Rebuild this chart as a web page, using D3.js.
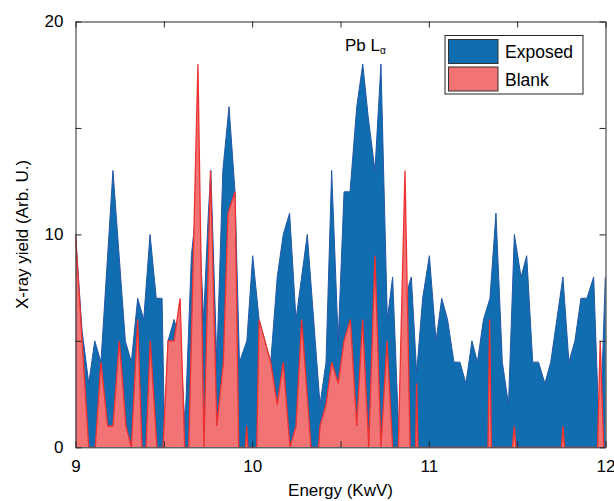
<!DOCTYPE html>
<html>
<head>
<meta charset="utf-8">
<script src="https://cdn.jsdelivr.net/npm/d3@7"></script>
<style>
  body { margin: 0; background: #fff; }
  svg { font-family: "Liberation Sans", Arial, sans-serif; }
</style>
</head>
<body>
<div id="chart"></div>
<script>
// Exposed spectrum (energy in keV, yield)
const exposedE = [9.000, 9.037, 9.075, 9.109, 9.144, 9.212, 9.282, 9.316, 9.352, 9.386,
  9.422, 9.457, 9.490, 9.504, 9.524, 9.558, 9.592, 9.620, 9.656, 9.693,
  9.725, 9.752, 9.766, 9.800, 9.834, 9.869, 9.903, 9.928, 9.970, 10.003,
  10.039, 10.105, 10.142, 10.176, 10.212, 10.248, 10.280, 10.312, 10.384, 10.418,
  10.450, 10.487, 10.520, 10.554, 10.592, 10.626, 10.657, 10.695, 10.729, 10.765,
  10.795, 10.833, 10.865, 10.886, 10.901, 10.931, 10.965, 11.003, 11.041, 11.073,
  11.106, 11.142, 11.176, 11.210, 11.244, 11.275, 11.309, 11.346, 11.380, 11.416,
  11.451, 11.484, 11.522, 11.554, 11.588, 11.621, 11.657, 11.690, 11.759, 11.793,
  11.827, 11.861, 11.895, 11.933, 11.967, 11.999, 12.010];
const exposedY = [10, 5.5, 3, 5, 4, 13, 5, 4, 7, 6,
  10, 7, 7, 0.5, 5, 6, 5, 1, 9, 12,
  6, 11, 13, 4, 13, 16, 12, 4, 5, 9,
  6, 4, 8, 10, 11, 6, 8, 10, 2, 4,
  13, 5, 12, 12, 16, 18, 15.5, 13, 18, 6,
  8, 0, 4, 7.6, 8, 3.5, 7, 9, 5, 7,
  6, 4, 4, 3, 5, 4, 6, 7, 11, 4,
  2, 10, 8, 9, 4, 4, 3, 4, 8, 4,
  5, 7, 7, 8, 0, 8, 8];

// Blank spectrum
const blankE = [9.000, 9.075, 9.112, 9.144, 9.182, 9.212, 9.248, 9.286, 9.316, 9.352,
  9.376, 9.399, 9.423, 9.461, 9.495, 9.524, 9.558, 9.592, 9.618, 9.641,
  9.693, 9.727, 9.764, 9.800, 9.837, 9.863, 9.903, 9.924, 9.962, 9.969,
  9.976, 10.026, 10.039, 10.105, 10.142, 10.176, 10.214, 10.248, 10.280, 10.333,
  10.376, 10.384, 10.418, 10.450, 10.487, 10.520, 10.556, 10.592, 10.625, 10.660,
  10.695, 10.729, 10.763, 10.795, 10.827, 10.865, 10.894, 10.925, 10.931, 10.939,
  11.335, 11.344, 11.354, 11.473, 11.484, 11.493, 11.751, 11.759, 11.768, 11.955,
  11.970, 11.990, 12.010];
const blankY = [10, 0, 0, 4, 1, 1, 5, 1, 0, 6,
  0, 0, 5, 0, 0, 5, 5, 7, 0, 0,
  18, 0, 13, 1, 4, 11, 12, 0, 0, 1,
  0, 0, 6, 4, 2, 4, 0, 1, 6, 0,
  0, 1, 2, 4, 3, 5, 6, 1, 6, 0,
  9, 0, 5, 0, 0, 13, 0, 0, 3, 0,
  0, 6, 0, 0, 1, 0, 0, 1, 0, 0,
  5, 0, 0];

const xTicks = [9, 9.5, 10, 10.5, 11, 11.5, 12];
const yTicks = [0, 5, 10, 15, 20];
const seriesNames = ["Exposed", "Blank"];

const width = 614, height = 501;
const margin = { top: 21.5, right: 8.5, bottom: 53.7, left: 75.5 };
const w = width - margin.left - margin.right;
const h = height - margin.top - margin.bottom;

const blueFill = "#0f6db0", blueEdge = "#2257a6";
const redFill = "#f27373", redEdge = "#ee3131";
const axisColor = "#262626";

const svg = d3.select("#chart").append("svg")
  .attr("width", width).attr("height", height);

const g = svg.append("g").attr("transform", `translate(${margin.left},${margin.top})`);

const xScale = d3.scaleLinear().domain([9, 12]).range([0, w]);
const yScale = d3.scaleLinear().domain([0, 20]).range([h, 0]);

g.append("clipPath").attr("id", "plotClip")
  .append("rect").attr("width", w).attr("height", h);

const exposed = exposedE.map((e, i) => ({ e, v: exposedY[i] }));
const blank = blankE.map((e, i) => ({ e, v: blankY[i] }));

const area = d3.area().x(d => xScale(d.e)).y0(yScale(0)).y1(d => yScale(d.v));
const line = d3.line().x(d => xScale(d.e)).y(d => yScale(d.v));

const plot = g.append("g").attr("clip-path", "url(#plotClip)");

plot.append("path").datum(exposed).attr("d", area).attr("fill", blueFill);
plot.append("path").datum(exposed).attr("d", line)
  .attr("fill", "none").attr("stroke", blueEdge).attr("stroke-width", 1);

plot.append("path").datum(blank).attr("d", area).attr("fill", redFill);
plot.append("path").datum(blank).attr("d", line)
  .attr("fill", "none").attr("stroke", redEdge).attr("stroke-width", 1.3);

// axes, MATLAB-like box with inward ticks
const fmtX = d => Number.isInteger(d) ? d : "";
const fmtY = d => d % 10 === 0 ? d : "";

const styleAxis = sel => {
  sel.select(".domain").attr("stroke", axisColor);
  sel.selectAll(".tick line").attr("stroke", axisColor);
  sel.selectAll(".tick text").attr("fill", "#000").style("font-size", "17px")
    .style("font-family", "'Liberation Sans', Arial, sans-serif");
};

g.append("g").attr("transform", `translate(0,${h})`)
  .call(d3.axisBottom(xScale).tickValues(xTicks).tickFormat(fmtX).tickSizeInner(-6).tickSizeOuter(0).tickPadding(13))
  .call(styleAxis);
g.append("g")
  .call(d3.axisTop(xScale).tickValues(xTicks).tickFormat("").tickSizeInner(-6).tickSizeOuter(0))
  .call(styleAxis);
g.append("g")
  .call(d3.axisLeft(yScale).tickValues(yTicks).tickFormat(fmtY).tickSizeInner(-6).tickSizeOuter(0).tickPadding(12))
  .call(styleAxis);
g.append("g").attr("transform", `translate(${w},0)`)
  .call(d3.axisRight(yScale).tickValues(yTicks).tickFormat("").tickSizeInner(-6).tickSizeOuter(0))
  .call(styleAxis);

// axis titles
svg.append("text")
  .attr("x", margin.left + w / 2).attr("y", 496)
  .attr("text-anchor", "middle").style("font-size", "17px")
  .text("Energy (KwV)");

svg.append("text")
  .attr("transform", `translate(28,${margin.top + h / 2}) rotate(-90)`)
  .attr("text-anchor", "middle").style("font-size", "17px")
  .text("X-ray yield (Arb. U.)");

// peak annotation
const ann = svg.append("text")
  .attr("x", 345).attr("y", 51).style("font-size", "17px");
ann.append("tspan").text("Pb L");
ann.append("tspan").attr("dy", 3).style("font-size", "10px").text("α");

// legend
const legend = svg.append("g").attr("transform", "translate(445,35.5)");
legend.append("rect").attr("width", 138).attr("height", 58.5)
  .attr("fill", "#fff").attr("stroke", axisColor).attr("stroke-width", 1);
const legendColors = [blueFill, redFill];
seriesNames.forEach((name, i) => {
  legend.append("rect")
    .attr("x", 3.5).attr("y", 4 + i * 27.5).attr("width", 49.5).attr("height", 24)
    .attr("fill", legendColors[i]).attr("stroke", "#333").attr("stroke-width", 1);
  legend.append("text")
    .attr("x", 60).attr("y", 22.5 + i * 27.5)
    .style("font-size", "17.5px").text(name);
});
</script>
</body>
</html>
